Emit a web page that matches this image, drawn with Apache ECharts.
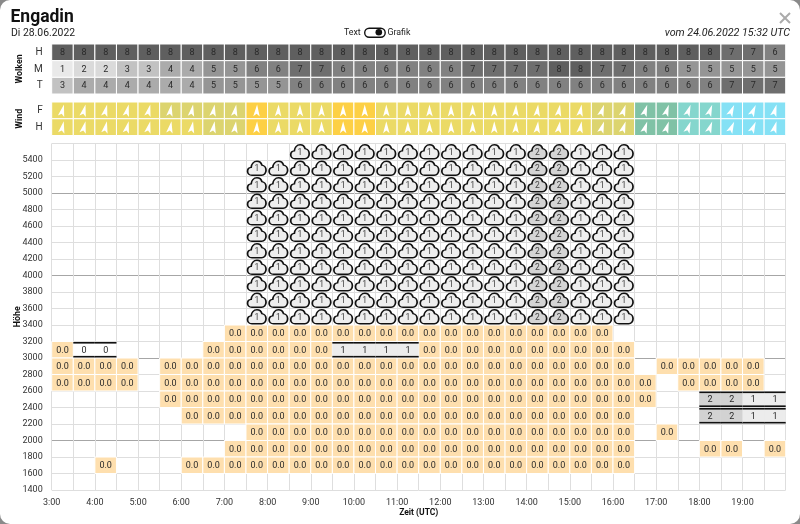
<!DOCTYPE html>
<html>
<head>
<meta charset="utf-8">
<script src="https://cdn.jsdelivr.net/npm/echarts@6/dist/echarts.min.js"></script>
<style>
  html, body { margin: 0; padding: 0; background: #8a8a8a; }
  #chart { width: 800px; height: 524px; background: #fff; border-radius: 10px; overflow: hidden; }
</style>
</head>
<body>
<div id="chart"></div>
<script>
const _ = null;

const timeLabels = [3, 4, 5, 6, 7, 8, 9, 10, 11, 12, 13, 14, 15, 16, 17, 18, 19];

// Wolken: Bedeckung pro halbe Stunde
const wolkenRows = ["H", "M", "T"];
const wolkenH = [8,8,8,8,8,8,8,8,8,8,8,8,8,8,8,8,8,8,8,8,8,8,8,8,8,8,8,8,8,8,8,7,7,6];
const wolkenM = [1,2,2,3,3,4,4,5,5,6,6,7,7,6,6,6,6,6,6,7,7,7,7,8,8,7,7,6,6,5,5,5,5,5];
const wolkenT = [3,4,4,4,4,4,4,5,5,5,5,6,6,6,6,6,6,6,6,6,6,6,6,6,6,6,6,6,6,6,6,7,7,7];

// Wind: Klasse und Richtung (Grad)
const windRows = ["F", "H"];
const windF = [5,5,5,5,5,4,4,4,4,6,5,5,5,6,6,5,5,5,5,5,5,5,5,5,5,4,4,3,3,2,2,1,1,1];
const windH = [5,5,5,5,5,5,5,4,4,6,5,5,5,6,6,5,5,5,5,5,5,5,5,5,5,4,4,3,3,2,2,1,1,1];
const dirF = [14,14,14,14,14,10,10,10,10,3,3,0,0,0,0,0,0,0,0,0,0,3,7,10,10,18,18,18,18,20,20,24,24,16];
const dirH = [12,14,12,14,14,10,10,10,8,3,3,0,0,0,0,0,0,0,0,0,0,3,7,10,10,18,18,18,18,20,20,24,24,16];

// Höhenraster: 0.0-Felder
const rain3200 = [_,_,_,_,_,_,_,_,0,0,0,0,0,0,0,0,0,0,0,0,0,0,0,0,0,0,_,_,_,_,_,_,_,_];
const rain3000 = [0,_,_,_,_,_,_,0,0,0,0,0,0,_,_,_,_,0,0,0,0,0,0,0,0,0,0,_,_,_,_,_,_,_];
const rain2800 = [0,0,0,0,_,0,0,0,0,0,0,0,0,0,0,0,0,0,0,0,0,0,0,0,0,0,0,_,0,0,0,0,0,_];
const rain2600 = [0,0,0,0,_,0,0,0,0,0,0,0,0,0,0,0,0,0,0,0,0,0,0,0,0,0,0,0,_,0,0,0,0,_];
const rain2400 = [_,_,_,_,_,0,0,0,0,0,0,0,0,0,0,0,0,0,0,0,0,0,0,0,0,0,0,0,_,_,_,_,_,_];
const rain2200 = [_,_,_,_,_,_,0,0,0,0,0,0,0,0,0,0,0,0,0,0,0,0,0,0,0,0,0,_,_,_,_,_,_,_];
const rain2000 = [_,_,_,_,_,_,_,_,_,0,0,0,0,0,0,0,0,0,0,0,0,0,0,0,0,0,0,_,0,_,_,_,_,_];
const rain1800 = [_,_,_,_,_,_,_,_,0,0,0,0,0,0,0,0,0,0,0,0,0,0,0,0,0,0,0,_,_,_,0,0,_,0];
const rain1600 = [_,_,0,_,_,_,0,0,0,0,0,0,0,0,0,0,0,0,0,0,0,0,0,0,0,0,0,_,_,_,_,_,_,_];

// Schichten mit schwarzer Linie oben und unten
const layer3000 = [_,0,0,_,_,_,_,_,_,_,_,_,_,1,1,1,1,_,_,_,_,_,_,_,_,_,_,_,_,_,_,_,_,_];
const layer2400 = [_,_,_,_,_,_,_,_,_,_,_,_,_,_,_,_,_,_,_,_,_,_,_,_,_,_,_,_,_,_,2,2,1,1];
const layer2200 = [_,_,_,_,_,_,_,_,_,_,_,_,_,_,_,_,_,_,_,_,_,_,_,_,_,_,_,_,_,_,2,2,1,1];

// Wolkensymbole
const cloud5400 = [_,_,_,_,_,_,_,_,_,_,_,1,1,1,1,1,1,1,1,1,1,1,2,2,1,1,1,_,_,_,_,_,_,_];
const cloud5200 = [_,_,_,_,_,_,_,_,_,1,1,1,1,1,1,1,1,1,1,1,1,1,2,2,1,1,1,_,_,_,_,_,_,_];
const cloud5000 = [_,_,_,_,_,_,_,_,_,1,1,1,1,1,1,1,1,1,1,1,1,1,2,2,1,1,1,_,_,_,_,_,_,_];
const cloud4800 = [_,_,_,_,_,_,_,_,_,1,1,1,1,1,1,1,1,1,1,1,1,1,2,2,1,1,1,_,_,_,_,_,_,_];
const cloud4600 = [_,_,_,_,_,_,_,_,_,1,1,1,1,1,1,1,1,1,1,1,1,1,2,2,1,1,1,_,_,_,_,_,_,_];
const cloud4400 = [_,_,_,_,_,_,_,_,_,1,1,1,1,1,1,1,1,1,1,1,1,1,2,2,1,1,1,_,_,_,_,_,_,_];
const cloud4200 = [_,_,_,_,_,_,_,_,_,1,1,1,1,1,1,1,1,1,1,1,1,1,2,2,1,1,1,_,_,_,_,_,_,_];
const cloud4000 = [_,_,_,_,_,_,_,_,_,1,1,1,1,1,1,1,1,1,1,1,1,1,2,2,1,1,1,_,_,_,_,_,_,_];
const cloud3800 = [_,_,_,_,_,_,_,_,_,1,1,1,1,1,1,1,1,1,1,1,1,1,2,2,1,1,1,_,_,_,_,_,_,_];
const cloud3600 = [_,_,_,_,_,_,_,_,_,1,1,1,1,1,1,1,1,1,1,1,1,1,2,2,1,1,1,_,_,_,_,_,_,_];
const cloud3400 = [_,_,_,_,_,_,_,_,_,1,1,1,1,1,1,1,1,1,1,1,1,1,2,2,1,1,1,_,_,_,_,_,_,_];

const wolkenColors = { 1: "#e9e9e9", 2: "#dadada", 3: "#c2c2c2", 4: "#ababab", 5: "#959595", 6: "#818181", 7: "#6e6e6e", 8: "#5f5f5f" };
const windColors = { 1: "#85e1f5", 2: "#85d6cd", 3: "#80c2a6", 4: "#dcd46f", 5: "#ebda66", 6: "#fdd045" };
const layerColors = { 0: "#ffffff", 1: "#ececec", 2: "#d2d2d2" };
const cloudColors = { 1: "#eeeeee", 2: "#d4d4d4" };
const rainColor = "#fedfae";

const cloudPath = "path://M6 18 C2.6 18 .5 15.6 .5 13 C.5 10.4 2.4 8.4 5 8.2 C5.4 4 8.2 .6 12.2 .6 C15.4 .6 17.6 2.6 18.4 5.4 C21.4 5.8 23.5 8.6 23.5 11.8 C23.5 15.4 21 18 18 18 Z";
const arrowPath = "path://M5 0 L10 14 L5 11 L0 14 Z";

const slotTime = (i) => 3 + i * 0.5;

// Feld an Zeit und Zeile: Daten sind [zeit, y, wert]
function rowCells(values, y) {
  return values
    .map((v, i) => [slotTime(i) + 0.25, y, v])
    .filter((d) => d[2] !== null);
}

function cellRenderer(colorOf, textOf, gap) {
  return function (params, api) {
    const center = api.coord([api.value(0), api.value(1)]);
    const band = api.size([0.5, params.seriesName === "band" ? 1 : 200]);
    const x = center[0] - band[0] / 2;
    const y = center[1] - band[1] / 2;
    const value = api.value(2);
    return {
      type: "group",
      children: [
        {
          type: "rect",
          shape: { x: x, y: y, width: band[0], height: band[1] },
          style: { fill: colorOf(value), stroke: "#fff", lineWidth: gap },
        },
        {
          type: "text",
          style: {
            x: center[0],
            y: center[1] + 0.5,
            text: textOf(value),
            align: "center",
            verticalAlign: "middle",
            font: "400 9px Roboto",
            fill: "#2a2a2a",
          },
        },
      ],
    };
  };
}

function layerRenderer(params, api) {
  const center = api.coord([api.value(0), api.value(1)]);
  const band = api.size([0.5, 200]);
  const x = center[0] - band[0] / 2;
  const y = center[1] - band[1] / 2;
  return {
    type: "group",
    children: [
      {
        type: "rect",
        shape: { x: x, y: y + 1, width: band[0], height: band[1] - 2 },
        style: { fill: layerColors[api.value(2)] },
      },
      { type: "rect", shape: { x: x, y: y + 0.5, width: band[0], height: 1.6 }, style: { fill: "#111" } },
      { type: "rect", shape: { x: x, y: y + band[1] - 2.1, width: band[0], height: 1.6 }, style: { fill: "#111" } },
      {
        type: "text",
        style: {
          x: center[0],
          y: center[1] + 0.5,
          text: String(api.value(2)),
          align: "center",
          verticalAlign: "middle",
          font: "400 9px Roboto",
          fill: "#2a2a2a",
        },
      },
    ],
  };
}

const wolkenData = [].concat(rowCells(wolkenH, 0), rowCells(wolkenM, 1), rowCells(wolkenT, 2));
const windData = [].concat(rowCells(windF, 0), rowCells(windH, 1));
const rainData = [].concat(
  rowCells(rain3200, 3300), rowCells(rain3000, 3100), rowCells(rain2800, 2900),
  rowCells(rain2600, 2700), rowCells(rain2400, 2500), rowCells(rain2200, 2300),
  rowCells(rain2000, 2100), rowCells(rain1800, 1900), rowCells(rain1600, 1700)
);
const layerData = [].concat(rowCells(layer3000, 3100), rowCells(layer2400, 2500), rowCells(layer2200, 2300));
const cloudData = [].concat(
  rowCells(cloud5400, 5500), rowCells(cloud5200, 5300), rowCells(cloud5000, 5100),
  rowCells(cloud4800, 4900), rowCells(cloud4600, 4700), rowCells(cloud4400, 4500),
  rowCells(cloud4200, 4300), rowCells(cloud4000, 4100), rowCells(cloud3800, 3900),
  rowCells(cloud3600, 3700), rowCells(cloud3400, 3500)
);
const arrowData = [].concat(
  dirF.map((d, i) => ({ value: [slotTime(i) + 0.25, 0], symbolRotate: -d })),
  dirH.map((d, i) => ({ value: [slotTime(i) + 0.25, 1], symbolRotate: -d }))
);

const FONT = "Roboto";
const hiddenTime = { type: "value", min: 3, max: 20, interval: 1, show: false };
const rowAxisLabel = { fontFamily: FONT, fontSize: 10, color: "#333", margin: 9 };
const nameStyle = { fontFamily: FONT, fontSize: 8.8, fontWeight: "bold", color: "#111" };

const options = {
  animation: false,
  textStyle: { fontFamily: FONT },
  grid: [
    { left: 51.7, width: 734, top: 44, height: 50, outerBoundsMode: "none" },
    { left: 51.7, width: 734, top: 102, height: 33.5, outerBoundsMode: "none" },
    { left: 51.7, width: 734, top: 143.5, height: 346.5, outerBoundsMode: "none" },
  ],
  xAxis: [
    Object.assign({ gridIndex: 0 }, hiddenTime),
    Object.assign({ gridIndex: 1 }, hiddenTime),
    {
      gridIndex: 2,
      type: "value",
      min: 3,
      max: 20,
      interval: 1,
      name: "Zeit (UTC)",
      nameLocation: "middle",
      nameGap: 18,
      nameMoveOverlap: false,
      nameTextStyle: { fontFamily: FONT, fontSize: 8.5, fontWeight: "bold", color: "#111" },
      axisLine: { show: false },
      axisTick: { show: false },
      minorTick: { show: false, splitNumber: 2 },
      axisLabel: {
        fontFamily: FONT,
        fontSize: 9,
        color: "#333",
        margin: 8,
        showMaxLabel: false,
        formatter: (v) => (timeLabels.includes(v) ? v + ":00" : ""),
      },
      splitLine: { show: true, lineStyle: { color: "#dedede", width: 1 } },
      minorSplitLine: { show: true, lineStyle: { color: "#dedede", width: 1 } },
    },
  ],
  yAxis: [
    {
      gridIndex: 0,
      type: "category",
      inverse: true,
      data: wolkenRows,
      name: "Wolken",
      nameLocation: "middle",
      nameRotate: 90,
      nameGap: 27,
      nameMoveOverlap: false,
      nameTextStyle: nameStyle,
      axisLine: { show: false },
      axisTick: { show: false },
      axisLabel: rowAxisLabel,
    },
    {
      gridIndex: 1,
      type: "category",
      inverse: true,
      data: windRows,
      name: "Wind",
      nameLocation: "middle",
      nameRotate: 90,
      nameGap: 27,
      nameMoveOverlap: false,
      nameTextStyle: nameStyle,
      axisLine: { show: false },
      axisTick: { show: false },
      axisLabel: rowAxisLabel,
    },
    {
      gridIndex: 2,
      type: "value",
      min: 1400,
      max: 5600,
      interval: 200,
      name: "Höhe",
      nameLocation: "middle",
      nameRotate: 90,
      nameGap: 29,
      nameMoveOverlap: false,
      nameTextStyle: nameStyle,
      axisLine: { show: false },
      axisTick: { show: false },
      axisLabel: {
        fontFamily: FONT,
        fontSize: 9,
        color: "#333",
        margin: 9,
        showMaxLabel: false,
        formatter: (v) => String(v),
      },
      splitLine: {
        show: true,
        lineStyle: { color: ["#dedede", "#dedede", "#dedede", "#a6a6a6", "#dedede"], width: 1 },
      },
    },
  ],
  series: [
    {
      name: "band",
      type: "custom",
      xAxisIndex: 0,
      yAxisIndex: 0,
      data: wolkenData,
      encode: { x: 0, y: 1 },
      renderItem: cellRenderer((v) => wolkenColors[v], (v) => String(v), 1),
    },
    {
      name: "band",
      type: "custom",
      xAxisIndex: 1,
      yAxisIndex: 1,
      data: windData,
      encode: { x: 0, y: 1 },
      renderItem: cellRenderer((v) => windColors[v], () => "", 1),
    },
    {
      type: "scatter",
      xAxisIndex: 1,
      yAxisIndex: 1,
      symbol: arrowPath,
      symbolSize: [6.5, 12],
      itemStyle: { color: "#fff", opacity: 1 },
      data: arrowData,
      z: 5,
    },
    {
      name: "rain",
      type: "custom",
      xAxisIndex: 2,
      yAxisIndex: 2,
      data: rainData,
      encode: { x: 0, y: 1 },
      renderItem: cellRenderer(() => rainColor, (v) => v.toFixed(1), 1),
    },
    {
      name: "layer",
      type: "custom",
      xAxisIndex: 2,
      yAxisIndex: 2,
      data: layerData,
      encode: { x: 0, y: 1 },
      renderItem: layerRenderer,
    },
    {
      type: "scatter",
      xAxisIndex: 2,
      yAxisIndex: 2,
      symbol: cloudPath,
      symbolSize: [18.5, 14],
      data: cloudData.map((d) => ({
        value: d,
        itemStyle: { color: cloudColors[d[2]], borderColor: "#111", borderWidth: 1.5, opacity: 1 },
      })),
      label: {
        show: true,
        position: "inside",
        fontFamily: FONT,
        fontSize: 8.5,
        color: "#444",
        offset: [0, 1],
        formatter: (p) => String(p.value[2]),
      },
      z: 5,
    },
  ],
  graphic: [
    { type: "text", left: 10.5, top: 9, style: { text: "Engadin", font: "700 17.5px Roboto", fill: "#111" } },
    { type: "text", left: 11, top: 28, style: { text: "Di 28.06.2022", font: "400 10.4px Roboto", fill: "#222" } },
    { type: "text", left: 344, top: 28, style: { text: "Text", font: "400 8.8px Roboto", fill: "#222" } },
    {
      type: "rect",
      left: 364,
      top: 27.5,
      shape: { width: 20.5, height: 9, r: 4.5 },
      style: { fill: "#fff", stroke: "#111", lineWidth: 1.4 },
    },
    { type: "circle", left: 375.5, top: 29, shape: { r: 3.3 }, style: { fill: "#111" } },
    { type: "text", left: 387.5, top: 28, style: { text: "Grafik", font: "400 8.8px Roboto", fill: "#222" } },
    { type: "text", right: 10, top: 28, style: { text: "vom 24.06.2022 15:32 UTC", font: "italic 400 10.7px Roboto", fill: "#222" } },
    { type: "line", shape: { x1: 780, y1: 13, x2: 790, y2: 23 }, style: { stroke: "#ababab", lineWidth: 2 } },
    { type: "line", shape: { x1: 790, y1: 13, x2: 780, y2: 23 }, style: { stroke: "#ababab", lineWidth: 2 } },
  ],
};

const chart = echarts.init(document.getElementById("chart"));
chart.setOption(options);
</script>
</body>
</html>
